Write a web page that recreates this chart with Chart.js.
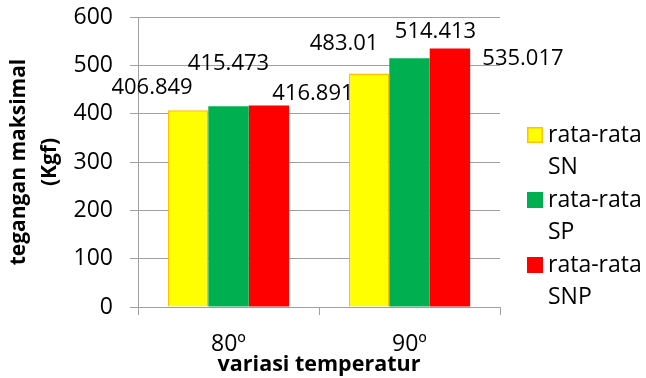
<!DOCTYPE html>
<html>
<head>
<meta charset="utf-8">
<title>tegangan maksimal</title>
<script src="https://cdn.jsdelivr.net/npm/chart.js@4"></script>
<style>
  body { margin: 0; background: #fff; }
  #chart { display: block; }
</style>
</head>
<body>
<canvas id="chart" width="646" height="378"></canvas>
<script>
const categories = ['80º', '90º'];
const seriesNames = [['rata-rata', 'SN'], ['rata-rata', 'SP'], ['rata-rata', 'SNP']];
const snValues = [406.849, 483.01];
const spValues = [415.473, 514.413];
const snpValues = [416.891, 535.017];
const yMin = 0, yMax = 600, yStep = 100;

// where each value label sits relative to the top of its bar (dx, dy)
const labelOffsets = [
	[[-36, -23], [-25, -30]],
	[[0, -42], [26, -27]],
	[[44, -12], [73, 10]],
];

const fills = ['#FFFF00', '#00B050', '#FF0000'];
const borders = ['#FFC000', '#00B050', '#FF0000'];
const gridColor = '#A0A0A0';

Chart.defaults.font.family = "'Open Sans', 'Noto Sans', sans-serif";
Chart.defaults.color = '#000';

const valueLabels = {
	id: 'valueLabels',
	afterDatasetsDraw(chart) {
		const ctx = chart.ctx;
		ctx.save();
		ctx.font = "22px 'Open Sans'";
		ctx.fillStyle = '#000';
		ctx.textAlign = 'center';
		ctx.textBaseline = 'middle';
		chart.data.datasets.forEach(function (ds, i) {
			chart.getDatasetMeta(i).data.forEach(function (bar, j) {
				const off = labelOffsets[i][j];
				ctx.fillText(String(ds.data[j]), bar.x + off[0], bar.y + off[1]);
			});
		});
		ctx.restore();
	},
};

const sideLegend = {
	id: 'sideLegend',
	afterDraw(chart) {
		const ctx = chart.ctx;
		const area = chart.chartArea;
		const x = area.right + 27;
		ctx.save();
		ctx.font = "23px 'Open Sans'";
		ctx.textBaseline = 'middle';
		ctx.textAlign = 'left';
		chart.data.datasets.forEach(function (ds, i) {
			const y = area.top + 118 + i * 65;
			ctx.fillStyle = ds.backgroundColor;
			ctx.fillRect(x, y - 8, 16, 16);
			if (i === 0) {
				ctx.strokeStyle = ds.borderColor;
				ctx.lineWidth = 1.5;
				ctx.strokeRect(x + 0.75, y - 7.25, 14.5, 14.5);
			}
			ctx.fillStyle = '#000';
			seriesNames[i].forEach(function (line, k) {
				ctx.fillText(line, x + 21, y + k * 32);
			});
		});
		ctx.restore();
	},
};

const config = {
	type: 'bar',
	data: {
		labels: categories,
		datasets: [snValues, spValues, snpValues].map(function (vals, i) {
			return {
				label: seriesNames[i].join(' '),
				data: vals,
				backgroundColor: fills[i],
				borderColor: borders[i],
				borderWidth: i === 0 ? 1.5 : 0,
				barPercentage: 1,
				categoryPercentage: 0.67,
			};
		}),
	},
	options: {
		responsive: false,
		animation: false,
		layout: { padding: { top: 17, right: 146, left: 0, bottom: 0 } },
		plugins: {
			legend: { display: false },
			tooltip: { enabled: false },
		},
		scales: {
			x: {
				grid: { drawOnChartArea: false, tickLength: 8, color: gridColor },
				border: { color: gridColor },
				ticks: { padding: 16, font: { size: 23 } },
				title: {
					display: true,
					text: 'variasi temperatur',
					font: { size: 21.5, weight: 'bold', lineHeight: 1.2 },
					padding: 0,
				},
				afterFit(scale) { scale.height = 71; },
			},
			y: {
				min: yMin,
				max: yMax,
				grid: { tickLength: 8, color: gridColor },
				border: { color: gridColor },
				ticks: { stepSize: yStep, padding: 17, font: { size: 23 } },
				title: {
					display: true,
					text: ['tegangan maksimal', '(Kgf)'],
					font: { size: 21, weight: 'bold', lineHeight: 1.48 },
					padding: { top: 3, bottom: 0 },
				},
				afterFit(scale) {
					scale.width = 138;
					scale.paddingTop = 0;
					scale.paddingBottom = 0;
				},
			},
		},
	},
	plugins: [valueLabels, sideLegend],
};

function draw() {
	new Chart(document.getElementById('chart'), config);
}

Promise.all([
	document.fonts.load("22px 'Open Sans'"),
	document.fonts.load("bold 21px 'Open Sans'"),
]).then(draw, draw);
</script>
</body>
</html>
